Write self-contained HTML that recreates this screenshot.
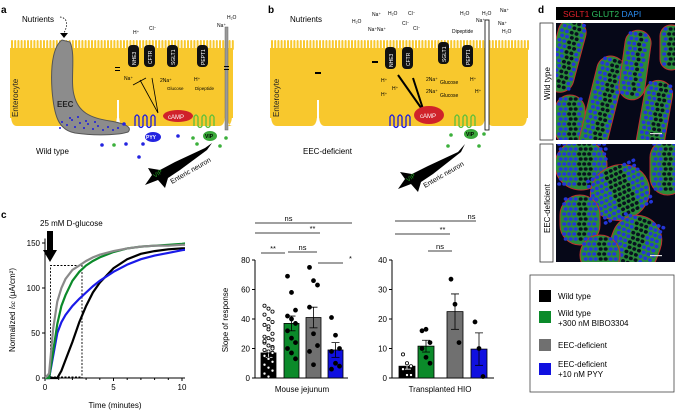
<!DOCTYPE html>
<html><head><meta charset="utf-8"><style>
html,body{margin:0;padding:0;background:#fff;}
svg{display:block;font-family:"Liberation Sans",Arial,sans-serif;}
</style></head><body>
<svg id="fig" width="675" height="412" viewBox="0 0 675 412">
<defs>
<clipPath id="clipA"><rect x="556" y="23" width="119" height="117"/></clipPath>
<clipPath id="clipB"><rect x="556" y="144" width="119" height="118"/></clipPath>
<clipPath id="clipC"><rect x="45" y="230" width="140" height="150"/></clipPath>
</defs>

<!-- ===== Panel a ===== -->
<g>
<text x="1" y="13" font-size="10" font-weight="bold">a</text>
<g id="cellsA"></g>
<path d="M62,40 C55,45 50,60 52,90 C54,115 58,130 75,133 C95,136 120,135 128,132 C132,128 128,124 110,121 C90,118 78,112 74,95 C70,80 76,55 70,42 Z" fill="#8c8c8c" stroke="#555" stroke-width="1"/>
<text x="57" y="107" font-size="8" font-weight="bold" fill="#222">EEC</text>
<text x="18" y="117" font-size="8" transform="rotate(-90 18 117)" fill="#222">Enterocyte</text>
<text x="22" y="22" font-size="8">Nutrients</text>
<path d="M60,17 C68,18 68,25 64,33" fill="none" stroke="#000" stroke-dasharray="1.5,1.5" stroke-width="0.8"/>
<polygon points="60,33 68,33 64,38" fill="#000"/>
<g id="dotsA"></g>
<text x="36" y="154" font-size="8">Wild type</text>
<rect x="225" y="27" width="3" height="103" fill="#999" stroke="#666" stroke-width="0.5"/>
<text x="217" y="27" font-size="5">Na⁺</text><text x="227" y="19" font-size="5">H₂O</text>
<rect x="115" y="67" width="5" height="1" fill="#000"/><rect x="115" y="70" width="5" height="1" fill="#000"/>
<rect x="224" y="66" width="5" height="1" fill="#000"/><rect x="224" y="69" width="5" height="1" fill="#000"/>
<g>
<rect x="128" y="45" width="11" height="22" rx="4" fill="#111"/><text x="136" y="65" font-size="5" fill="#fff" transform="rotate(-90 136 65)">NHE3</text>
<rect x="144" y="45" width="11" height="22" rx="4" fill="#111"/><text x="152" y="64" font-size="5" fill="#fff" transform="rotate(-90 152 64)">CFTR</text>
<rect x="167" y="45" width="11" height="22" rx="4" fill="#111"/><text x="175" y="65" font-size="5" fill="#fff" transform="rotate(-90 175 65)">SGLT1</text>
<rect x="197" y="45" width="11" height="22" rx="4" fill="#111"/><text x="205" y="65" font-size="5" fill="#fff" transform="rotate(-90 205 65)">PEPT1</text>
</g>
<text x="133" y="34" font-size="5">H⁺</text><text x="149" y="30" font-size="5">Cl⁻</text>
<text x="124" y="80" font-size="5">Na⁺</text><text x="160" y="82" font-size="5">2Na⁺</text>
<text x="167" y="90" font-size="4.5">Glucose</text><text x="194" y="81" font-size="5">H⁺</text><text x="195" y="90" font-size="4.5">Dipeptide</text>
<path d="M158,113 L140,80 M158,113 L152,78 M133,85 L146,78" stroke="#000" stroke-width="0.8" fill="none"/>
<ellipse cx="178" cy="116" rx="15" ry="6" fill="#d0222a"/>
<text x="168" y="119" font-size="6" fill="#fff">cAMP</text>
<path d="M135,126 l0,-9 q2,-4 4,0 l0,9 q2,3 4,0 l0,-9 q2,-4 4,0 l0,9 q2,3 4,0 l0,-9 q2,-4 4,0 l0,9" fill="none" stroke="#1a1ae0" stroke-width="1.3"/>
<ellipse cx="153" cy="137" rx="8" ry="5" fill="#2424e0"/><text x="146" y="139" font-size="5" fill="#fff" font-weight="bold">PYY</text>
<path d="M194,126 l0,-9 q2,-4 4,0 l0,9 q2,3 4,0 l0,-9 q2,-4 4,0 l0,9 q2,3 4,0 l0,-9 q2,-4 4,0 l0,9" fill="none" stroke="#5cbf3c" stroke-width="1.3"/>
<ellipse cx="210" cy="136" rx="7" ry="5" fill="#3aa83a"/><text x="205" y="138" font-size="5" fill="#000" font-weight="bold">VIP</text>
<path d="M148,168 L160,170 L175,162 L205,148 L212,143 L207,150 L180,170 L168,178 L165,188 L158,180 L145,185 L152,175 Z" fill="#000"/>
<text x="155" y="178" font-size="6" fill="#20a020" transform="rotate(-35 155 178)">VIP</text>
<text x="172" y="184" font-size="7" transform="rotate(-30 172 184)">Enteric neuron</text>
<circle cx="102" cy="145" r="1.8" fill="#2424e0"/><circle cx="114" cy="145" r="1.8" fill="#3cb03c"/><circle cx="126" cy="144" r="1.8" fill="#2424e0"/><circle cx="124" cy="124" r="1.8" fill="#2424e0"/><circle cx="143" cy="144" r="1.8" fill="#2424e0"/><circle cx="139" cy="157" r="1.8" fill="#2424e0"/><circle cx="178" cy="136" r="1.8" fill="#2424e0"/><circle cx="193" cy="138" r="1.8" fill="#3cb03c"/><circle cx="197" cy="144" r="1.8" fill="#3cb03c"/><circle cx="220" cy="146" r="1.8" fill="#3cb03c"/><circle cx="226" cy="138" r="1.8" fill="#3cb03c"/>
</g>

<!-- ===== Panel b ===== -->
<g>
<text x="268" y="13" font-size="10" font-weight="bold">b</text>
<g id="cellsB"></g>
<text x="290" y="22" font-size="8">Nutrients</text>
<text x="279" y="117" font-size="8" transform="rotate(-90 279 117)" fill="#222">Enterocyte</text>
<rect x="315" y="72" width="6" height="2" fill="#000"/><rect x="372" y="61" width="6" height="2" fill="#000"/>
<text x="303" y="154" font-size="8">EEC-deficient</text>
<g>
<rect x="385" y="47" width="11" height="22" rx="4" fill="#111"/><text x="393" y="67" font-size="5" fill="#fff" transform="rotate(-90 393 67)">NHE3</text>
<rect x="402" y="47" width="11" height="22" rx="4" fill="#111"/><text x="410" y="66" font-size="5" fill="#fff" transform="rotate(-90 410 66)">CFTR</text>
<rect x="438" y="42" width="11" height="22" rx="4" fill="#111"/><text x="446" y="62" font-size="5" fill="#fff" transform="rotate(-90 446 62)">SGLT1</text>
<rect x="462" y="45" width="11" height="22" rx="4" fill="#111"/><text x="470" y="65" font-size="5" fill="#fff" transform="rotate(-90 470 65)">PEPT1</text>
</g>
<rect x="485" y="20" width="4" height="110" fill="#fff" stroke="#000" stroke-width="0.8"/>
<text x="352" y="23" font-size="5">H₂O</text><text x="372" y="16" font-size="5">Na⁺</text><text x="388" y="15" font-size="5">H₂O</text><text x="408" y="15" font-size="5">Cl⁻</text>
<text x="368" y="31" font-size="5">Na⁺Na⁺</text><text x="402" y="25" font-size="5">Cl⁻</text><text x="413" y="30" font-size="5">Cl⁻</text>
<text x="460" y="15" font-size="5">H₂O</text><text x="482" y="15" font-size="5">H₂O</text><text x="500" y="12" font-size="5">Na⁺</text><text x="476" y="22" font-size="5">Na⁺</text><text x="498" y="25" font-size="5">Na⁺</text><text x="502" y="33" font-size="5">H₂O</text><text x="452" y="33" font-size="5">Dipeptide</text>
<text x="381" y="82" font-size="5">H⁺</text><text x="392" y="90" font-size="5">H⁺</text><text x="381" y="96" font-size="5">H⁺</text>
<text x="426" y="81" font-size="5">2Na⁺</text><text x="440" y="84" font-size="5">Glucose</text><text x="426" y="93" font-size="5">2Na⁺</text><text x="440" y="97" font-size="5">Glucose</text><text x="470" y="81" font-size="5">H⁺</text><text x="475" y="93" font-size="5">H⁺</text>
<path d="M424,112 L398,75 M424,112 L413,78" stroke="#000" stroke-width="2" fill="none"/>
<ellipse cx="429" cy="115" rx="15" ry="9" fill="#d0222a"/>
<text x="420" y="118" font-size="6" fill="#fff">cAMP</text>
<path d="M390,126 l0,-9 q2,-4 4,0 l0,9 q2,3 4,0 l0,-9 q2,-4 4,0 l0,9 q2,3 4,0 l0,-9 q2,-4 4,0 l0,9" fill="none" stroke="#1a1ae0" stroke-width="1.3"/>
<path d="M455,126 l0,-9 q2,-4 4,0 l0,9 q2,3 4,0 l0,-9 q2,-4 4,0 l0,9 q2,3 4,0 l0,-9 q2,-4 4,0 l0,9" fill="none" stroke="#5cbf3c" stroke-width="1.3"/>
<ellipse cx="471" cy="134" rx="7" ry="5" fill="#3aa83a"/><text x="466" y="136" font-size="5" font-weight="bold">VIP</text>
<path d="M400,172 L412,174 L428,166 L458,152 L465,144 L461,152 L433,174 L421,182 L418,192 L411,184 L398,189 L405,179 Z" fill="#000"/>
<text x="408" y="182" font-size="6" fill="#20a020" transform="rotate(-35 408 182)">VIP</text>
<text x="425" y="188" font-size="7" transform="rotate(-30 425 188)">Enteric neuron</text>
<circle cx="451" cy="135" r="1.8" fill="#3cb03c"/><circle cx="484" cy="134" r="1.8" fill="#3cb03c"/><circle cx="448" cy="146" r="1.8" fill="#3cb03c"/><circle cx="479" cy="146" r="1.8" fill="#3cb03c"/>
</g>

<!-- ===== Panel d ===== -->
<g>
<text x="538" y="13" font-size="10" font-weight="bold">d</text>
<rect x="556" y="7" width="119" height="13" fill="#000"/>
<text x="563" y="17" font-size="8.5"><tspan fill="#e0202a">SGLT1</tspan> <tspan fill="#2ec060">GLUT2</tspan> <tspan fill="#2a8cf0">DAPI</tspan></text>
<rect x="540" y="23" width="13" height="117" fill="#fff" stroke="#333" stroke-width="0.8"/>
<text x="550" y="100" font-size="8" transform="rotate(-90 550 100)">Wild type</text>
<rect x="540" y="144" width="13" height="118" fill="#fff" stroke="#333" stroke-width="0.8"/>
<text x="550" y="233" font-size="8" transform="rotate(-90 550 233)">EEC-deficient</text>
<g clip-path="url(#clipA)">
<rect x="556" y="23" width="119" height="117" fill="#060818"/>
<g id="imgA"></g>
<rect x="650" y="133" width="12" height="1.2" fill="#ddd"/>
</g>
<g clip-path="url(#clipB)">
<rect x="556" y="144" width="119" height="118" fill="#060818"/>
<g id="imgB"></g>
<rect x="650" y="255" width="12" height="1.2" fill="#ddd"/>
</g>
</g>

<!-- ===== Panel c ===== -->
<g>
<text x="1" y="218" font-size="10" font-weight="bold">c</text>
<text x="40" y="226" font-size="8">25 mM D-glucose</text>
<rect x="47" y="231" width="6" height="20" fill="#000"/><polygon points="43,250 57,250 50,262" fill="#000"/>
<g id="chartC"></g>
<text x="15" y="310" font-size="8" text-anchor="middle" transform="rotate(-90 15 310)">Normalized <tspan font-style="italic">I</tspan><tspan font-size="6" font-style="italic">sc</tspan> (μA/cm²)</text>
<text x="115" y="408" font-size="8" text-anchor="middle">Time (minutes)</text>
<g id="barsJ"></g>
<text x="228" y="320" font-size="8" text-anchor="middle" transform="rotate(-90 228 320)">Slope of response</text>
<text x="302" y="392" font-size="8" text-anchor="middle">Mouse jejunum</text>
<g id="barsH"></g>
<text x="440" y="392" font-size="8" text-anchor="middle">Transplanted HIO</text>
</g>

<!-- legend -->
<g>
<rect x="530" y="275" width="144" height="117" fill="#fff" stroke="#444" stroke-width="0.8"/>
<rect x="539" y="290" width="12" height="12" fill="#000"/>
<text x="558" y="299" font-size="8">Wild type</text>
<rect x="539" y="311" width="12" height="12" fill="#0b8a2a"/>
<text x="558" y="316" font-size="8">Wild type</text>
<text x="558" y="326" font-size="8">+300 nM BIBO3304</text>
<rect x="539" y="339" width="12" height="12" fill="#707070"/>
<text x="558" y="348" font-size="8">EEC-deficient</text>
<rect x="539" y="363" width="12" height="12" fill="#1010e0"/>
<text x="558" y="367" font-size="8">EEC-deficient</text>
<text x="558" y="377" font-size="8">+10 nM PYY</text>
</g>
</svg>
<script>
// ---- chart data ----
var timeMin = [0, 0.3, 0.6, 0.9, 1.2, 1.5, 2, 2.5, 3, 3.5, 4, 5, 6, 7, 8, 9, 10, 10.5];
var curveBlack = [0, 0, 0, 0, 8, 20, 40, 62, 80, 95, 106, 122, 132, 138, 141, 143, 144, 144];
var curveGreen = [0, 0, 30, 60, 80, 92, 108, 118, 125, 130, 134, 140, 144, 146, 147, 148, 149, 150];
var curveGray  = [0, 5, 55, 85, 100, 110, 120, 125, 130, 134, 137, 141, 144, 146, 147, 147, 148, 148];
var curveBlue  = [0, 0, 25, 50, 62, 70, 80, 88, 95, 102, 108, 118, 126, 132, 136, 139, 142, 143];
var xTicksC = [0, 5, 10];
var yTicksC = [0, 50, 100, 150];
var groupColors = ['#000', '#0b8a2a', '#707070', '#1010e0'];
var jejMeans = [17, 37, 41, 19];
var jejSem = [3, 5, 7, 5];
var jejPoints = [
 [49,47,45,43,40,38,36,33,30,28,27,26,24,22,21,19,18,17,15,13,11,9,7,5,3,1,20,25,35],
 [69,58,46,42,40,37,32,27,24,20,17,13],
 [75,66,63,48,30,22,18,9],
 [41,29,20,18,10,8,6]];
var jejYTicks = [0, 20, 40, 60, 80];
var hioMeans = [4, 10.8, 22.5, 9.8];
var hioSem = [1, 2, 6, 5.5];
var hioPoints = [[8,5,4,3,1,1],[16,16.5,12,10,7,5],[33.5,25,12],[19,10,0.5]];
var hioYTicks = [0, 10, 20, 30, 40];

var NS = 'http://www.w3.org/2000/svg';
function mk(parent, tag, attrs) {
  var e = document.createElementNS(NS, tag);
  for (var k in attrs) e.setAttribute(k, attrs[k]);
  parent.appendChild(e); return e;
}

// ---- cell layers (decorative) ----
function cells(g, x0, x1, bounds) {
  mk(g, 'rect', {x: x0, y: 48, width: x1 - x0, height: 70, fill: '#f8c82d'});
  for (var x = x0 + 1; x < x1 - 1; x += 3.2) mk(g, 'rect', {x: x, y: 40, width: 2, height: 10, rx: 1, fill: '#f8c82d'});
  for (var i = 0; i < bounds.length - 1; i++) {
    var a = bounds[i] + 1, b = bounds[i + 1] - 1;
    mk(g, 'path', {d: 'M' + a + ',115 Q' + a + ',126 ' + (a + 6) + ',126 L' + (b - 6) + ',126 Q' + b + ',126 ' + b + ',115 Z', fill: '#f8c82d'});
  }
  for (var j = 1; j < bounds.length - 1; j++) mk(g, 'rect', {x: bounds[j] - 1, y: 100, width: 2, height: 30, fill: '#fff'});
}
cells(document.getElementById('cellsA'), 10, 233, [10, 118, 226, 233]);
cells(document.getElementById('cellsB'), 270, 528, [270, 318, 486, 528]);

var dA = document.getElementById('dotsA');
[[62,122],[67,125],[72,120],[75,127],[80,123],[84,128],[88,124],[93,129],[98,126],[103,130],[108,127],[113,130],[70,118],[78,117],[86,121],[118,128],[60,128],[95,122]].forEach(function(p){
  mk(dA, 'circle', {cx: p[0], cy: p[1], r: 1, fill: '#1a1ae0'});
});

// ---- micrographs (decorative) ----
function villi(g, list) {
  list.forEach(function(v) {
    var cxv = v[0] + v[2] / 2, cyv = v[1] + v[3] / 2;
    var tr = 'rotate(' + v[4] + ' ' + cxv + ' ' + cyv + ')';
    mk(g, 'rect', {x: v[0], y: v[1], width: v[2], height: v[3], rx: v[2] / 2, fill: '#2a8a3a', stroke: '#c03030', 'stroke-width': 1, transform: tr});
    var inner = mk(g, 'g', {transform: tr});
    for (var yy = v[1] + 4; yy < v[1] + v[3] - 4; yy += 5) {
      for (var xx = v[0] + 3; xx < v[0] + v[2] - 3; xx += 5) {
        var central = Math.abs(xx - cxv) < v[2] * 0.15;
        mk(inner, 'ellipse', {cx: xx + ((yy / 5) % 2) * 1.5, cy: yy, rx: 2, ry: 1.8, fill: central ? '#081020' : '#2436d8'});
      }
    }
  });
}
villi(document.getElementById('imgA'), [[552,18,28,75,15],[555,95,30,50,0],[588,55,28,100,14],[622,30,26,70,8],[640,80,28,80,10],[660,25,22,45,0]]);
villi(document.getElementById('imgB'), [[555,140,52,50,0],[590,165,60,55,-25],[560,195,40,50,0],[610,215,50,60,20],[650,140,35,55,0],[580,235,40,40,0]]);

// ---- panel c line chart ----
var cx0 = 45, cx1 = 185, cy0 = 378, cy150 = 243;
function xC(t) { return cx0 + t * 13.7; }
function yC(v) { return cy0 - v * (cy0 - cy150) / 150; }
var gc = document.getElementById('chartC');
var ax = mk(gc, 'path', {d: 'M' + cx0 + ',' + yC(155) + ' L' + cx0 + ',' + cy0 + ' L' + cx1 + ',' + cy0, stroke: '#000', fill: 'none', 'stroke-width': 1});


yTicksC.forEach(function(v){
  mk(gc, 'line', {x1: cx0 - 3, x2: cx0, y1: yC(v), y2: yC(v), stroke: '#000'});
  var t = mk(gc, 'text', {x: cx0 - 5, y: yC(v) + 3, 'font-size': 8, 'text-anchor': 'end'}); t.textContent = v;
  
  
});
for (var m = 0; m <= 10; m++) mk(gc, 'line', {x1: xC(m), x2: xC(m), y1: cy0, y2: cy0 + (m % 5 === 0 ? 3 : 2), stroke: '#000'});
xTicksC.forEach(function(v){
  var t = mk(gc, 'text', {x: xC(v), y: cy0 + 12, 'font-size': 8, 'text-anchor': 'middle'}); t.textContent = v;
  
  
});
mk(gc, 'path', {d: 'M' + xC(0.4) + ',' + cy0 + ' L' + xC(0.4) + ',' + yC(125) + ' L' + xC(2.7) + ',' + yC(125) + ' L' + xC(2.7) + ',' + cy0 + ' M' + xC(0.4) + ',' + (cy0 - 1) + ' L' + xC(2.7) + ',' + (cy0 - 1), stroke: '#000', 'stroke-dasharray': '2,1.5', fill: 'none', 'stroke-width': 0.9});
var curves = [[curveBlack, '#000', 'curve-wild-type'], [curveBlue, '#1a1ae8', 'curve-pyy'], [curveGreen, '#0b8a2a', 'curve-bibo'], [curveGray, '#8a8a8a', 'curve-eec-deficient']];
curves.forEach(function(c){
  var d = c[0].map(function(v, i){ return (i ? 'L' : 'M') + xC(timeMin[i]).toFixed(1) + ',' + yC(v).toFixed(1); }).join(' ');
  var p = mk(gc, 'path', {d: d, stroke: c[1], fill: 'none', 'stroke-width': 2.2, 'clip-path': 'url(#clipC)'});
  
  
});

// ---- bar charts ----
function barChart(id, axisX, axisEnd, barX, barW, maxV, ticks, means, sem, pts, sigs, nm) {
  var g = document.getElementById(id);
  var y0 = 378, yTop = 260;
  function yv(v) { return y0 - v * (y0 - yTop) / maxV; }
  mk(g, 'path', {d: 'M' + axisX + ',' + yTop + ' L' + axisX + ',' + y0 + ' L' + axisEnd + ',' + y0, stroke: '#000', fill: 'none'});
  ticks.forEach(function(v){
    mk(g, 'line', {x1: axisX - 3, x2: axisX, y1: yv(v), y2: yv(v), stroke: '#000'});
    var t = mk(g, 'text', {x: axisX - 5, y: yv(v) + 3, 'font-size': 8, 'text-anchor': 'end'}); t.textContent = v;
    
    
  });
  means.forEach(function(m, i){
    var x = barX[i];
    var r = mk(g, 'rect', {x: x, y: yv(m), width: barW, height: y0 - yv(m), fill: groupColors[i], stroke: '#000', 'stroke-width': 0.8});
    
    
    var cxm = x + barW / 2;
    mk(g, 'path', {d: 'M' + cxm + ',' + yv(m - sem[i]) + ' L' + cxm + ',' + yv(m + sem[i]) + ' M' + (cxm - 4) + ',' + yv(m + sem[i]) + ' L' + (cxm + 4) + ',' + yv(m + sem[i]), stroke: i === 0 ? '#fff' : '#000', 'stroke-width': 0.8, fill: 'none'});
    mk(g, 'path', {d: 'M' + (cxm - 4) + ',' + yv(m - sem[i]) + ' L' + (cxm + 4) + ',' + yv(m - sem[i]), stroke: i === 0 ? '#fff' : '#000', 'stroke-width': 0.8});
    pts[i].forEach(function(v, k){
      var off = ((k % 3) - 1) * 4;
      var c = mk(g, 'circle', {cx: cxm + off, cy: yv(v), r: i === 0 ? 1.6 : 2, fill: i === 0 ? '#fff' : '#000', stroke: '#000', 'stroke-width': 0.8});
      
      
    });
  });
  sigs.forEach(function(s){
    mk(g, 'line', {x1: s[0], x2: s[1], y1: s[2], y2: s[2], stroke: '#000', 'stroke-width': 0.8});
    var t = mk(g, 'text', {x: (s[0] + s[1]) / 2 + (s[4] || 0), y: s[2] - 2, 'font-size': 7.5, 'text-anchor': 'middle'}); t.textContent = s[3];
    
    
  });
}
barChart('barsJ', 255, 348, [261, 284, 306, 328], 15, 80, jejYTicks, jejMeans, jejSem, jejPoints,
  [[255, 352, 223, 'ns', -15], [255, 320, 233, '**', 25], [261, 285, 253, '**'], [288, 317, 252, 'ns'], [318, 343, 263, '*', 20]], 'jejunum');
barChart('barsH', 392, 494, [399, 418, 447, 471], 16, 40, hioYTicks, hioMeans, hioSem, hioPoints,
  [[395, 476, 221, 'ns', 36], [395, 450, 234, '**', 20], [428, 452, 251, 'ns']], 'hio');
</script>
</body></html>
